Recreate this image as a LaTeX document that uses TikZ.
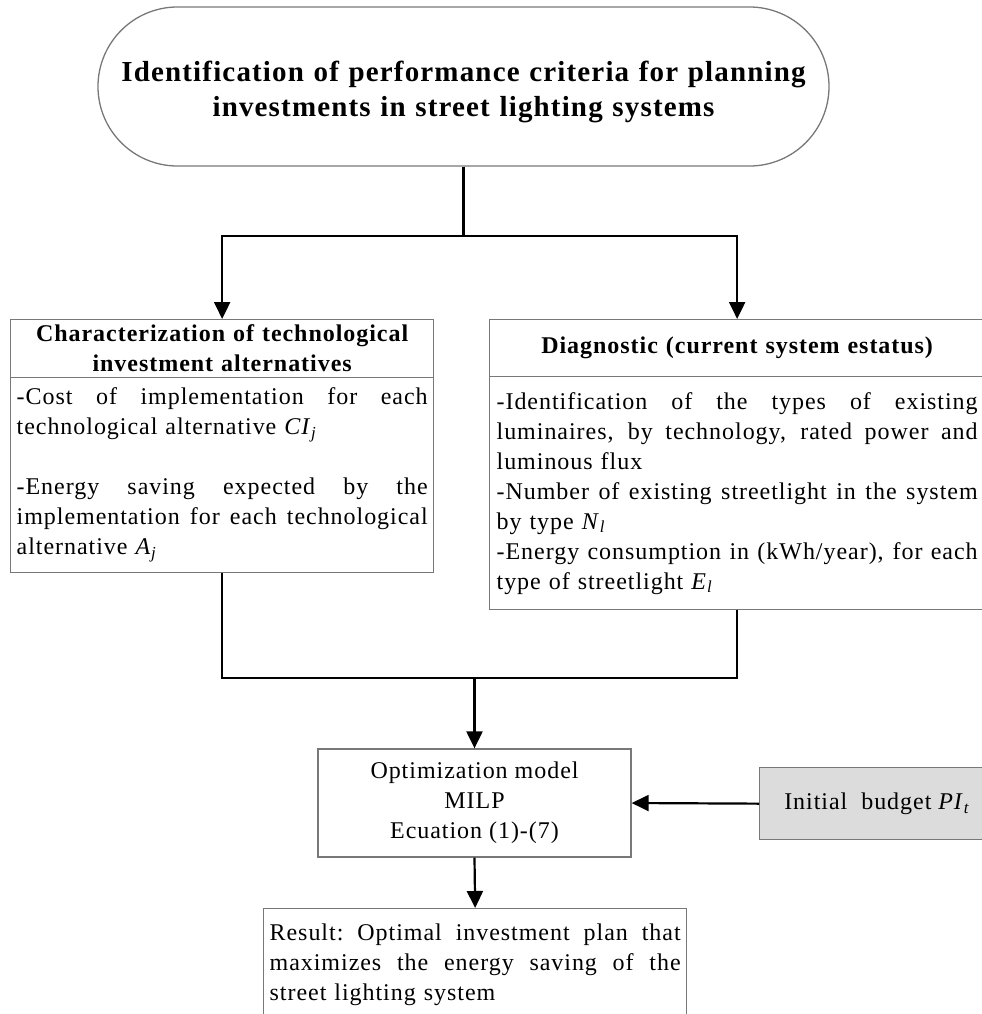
\documentclass[tikz,border=0pt]{standalone}
\usepackage{fontspec}
\setmainfont{Liberation Serif}[LetterSpace=4]
\usetikzlibrary{arrows.meta,shapes.misc}
\definecolor{boxgray}{RGB}{120,120,120}
\definecolor{budfill}{RGB}{220,220,220}
\newcommand\bodyfnt{\fontsize{24bp}{30bp}\selectfont}
\newcommand\titlefnt{\fontsize{29bp}{35bp}\selectfont\bfseries}
\newcommand\headfnt{\fontsize{24bp}{30bp}\selectfont\bfseries}
\newcommand\jline[2][411bp]{\leavevmode\hbox to #1{\spaceskip=0.25em plus 1fil\relax\xspaceskip=\spaceskip #2}}
\begin{document}
\begin{tikzpicture}[x=1bp,y=-1bp,
  box/.style={draw=boxgray,line width=1.3bp,inner xsep=6bp,inner ysep=0pt,font=\bodyfnt},
  conn/.style={draw=black,line width=2.2bp},
  arr/.style={conn,-{Triangle[length=17bp,width=16bp]}}]
\useasboundingbox (0,0) rectangle (982,1014);
\fill[white] (0,0) rectangle (982,1014);

\node[box,rounded rectangle,minimum width=743bp,minimum height=159bp,font=\titlefnt,text width=700bp,align=center] (top) at (463.5,86.5)
  {\rule{0pt}{31bp}Identification of performance criteria for planning\\investments in street lighting systems};

\node[box,anchor=north west,text width=411bp,minimum height=58bp,align=center,font=\headfnt] (lh) at (10,319)
  {Characterization of technological\\investment alternatives};
\node[box,anchor=north west,text width=411bp,minimum height=195bp,align=left] (lb) at (10,377)
  {\jline{-Cost of implementation for each}\\
   technological alternative \textit{CI}\textsubscript{\textit{j}}\\[30bp]
   \jline{-Energy saving expected by the}\\
   \jline{implementation for each technological}\\
   alternative \textit{A}\textsubscript{\textit{j}}};

\node[box,anchor=north west,inner xsep=7bp,text width=481bp,minimum height=57bp,align=center,font=\headfnt] (rh) at (489,319)
  {Diagnostic (current system estatus)};
\node[box,anchor=north west,inner xsep=7bp,text width=481bp,minimum height=233bp,align=left] (rb) at (489,376)
  {\jline[481bp]{-Identification of the types of existing}\\
   \jline[481bp]{luminaires, by technology, rated power and}\\
   luminous flux\\
   \jline[481bp]{-Number of existing streetlight in the system}\\
   by type \textit{N}\textsubscript{\textit{l}}\\
   \jline[481bp]{-Energy consumption in (kWh/year), for each}\\
   type of streetlight \textit{E}\textsubscript{\textit{l}}};

\node[box,minimum width=313bp,minimum height=108bp,align=center] (opt) at (474.5,803)
  {Optimization model\\MILP\\Ecuation (1)-(7)};

\node[box,anchor=north west,fill=budfill,minimum width=235bp,minimum height=72bp] (bud) at (759,767)
  {Initial~ budget \textit{PI}\textsubscript{\textit{t}}};

\node[box,anchor=north west,text width=411bp,minimum height=113bp,align=left] (res) at (263,908)
  {\jline{Result: Optimal investment plan that}\\
   \jline{maximizes the energy saving of the}\\
   street lighting system};

\coordinate (split) at (463.5,236);
\draw[conn] (top.south) -- (split);
\draw[arr] (split) -| (lh.north);
\draw[arr] (split) -| (rh.north);
\coordinate (join) at (474.5,678);
\draw[conn] (lb.south) |- (join) -| (rb.south);
\draw[arr] (join) -- (opt.north);
\draw[arr] (bud.west) -- (opt.east);
\draw[arr] (opt.south) -- (res.north);
\end{tikzpicture}
\end{document}
